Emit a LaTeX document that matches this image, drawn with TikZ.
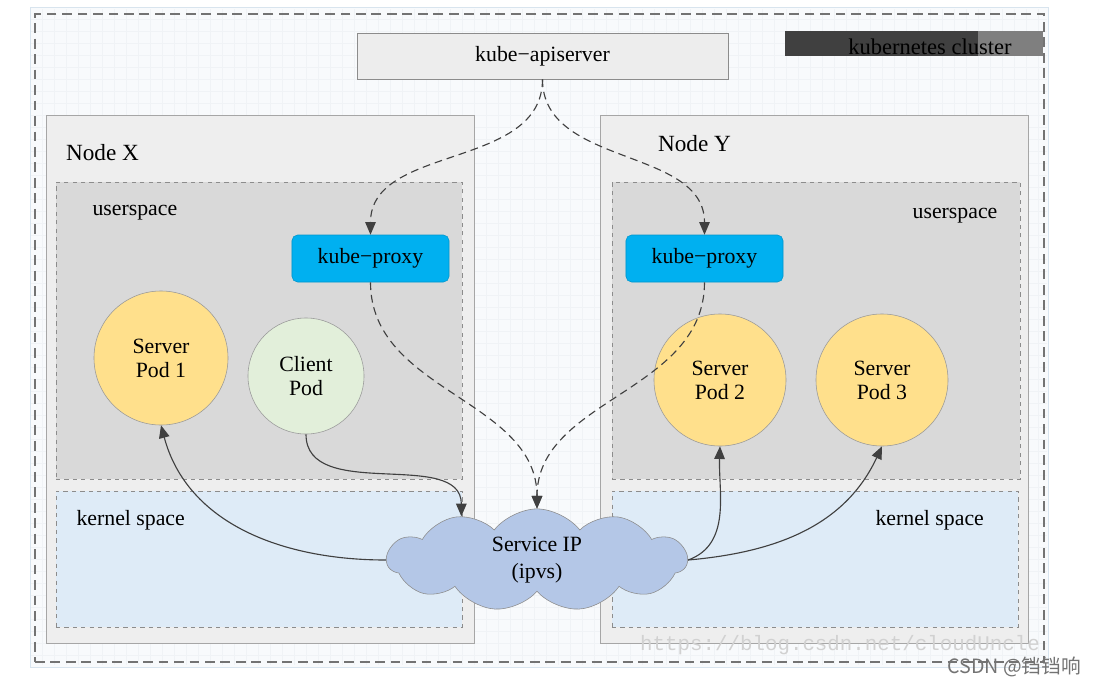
\documentclass[tikz,border=0pt]{standalone}
\usepackage{fontspec}
\setmainfont{Liberation Serif}
\setmonofont{Liberation Mono}
\newfontfamily\cjk{Noto Sans CJK SC}
\usepackage{tikz}
\usetikzlibrary{shapes.symbols}
\usetikzlibrary{arrows.meta}
\usetikzlibrary{positioning}

\definecolor{framefill}{HTML}{F8FAFC}
\definecolor{frameline}{HTML}{D8E4EE}
\definecolor{gridline}{HTML}{F0F3F6}
\definecolor{boxgray}{HTML}{EEEEEE}
\definecolor{apigray}{HTML}{EDEDED}
\definecolor{usergray}{HTML}{D9D9D9}
\definecolor{kernblue}{HTML}{DEEBF7}
\definecolor{proxyblue}{HTML}{00B0F0}
\definecolor{podyellow}{HTML}{FFE08C}
\definecolor{podgreen}{HTML}{E2EFDA}
\definecolor{cloudblue}{HTML}{B4C7E7}
\definecolor{bardark}{HTML}{404040}
\definecolor{barlight}{HTML}{7F7F7F}

\tikzset{
  hostbox/.style={draw=black!35, fill=boxgray, minimum width=10.7cm, minimum height=13.2cm},
  spacebox/.style={draw=black!45, dashed, minimum width=10.15cm},
  proxybox/.style={draw=proxyblue!85!black, fill=proxyblue, rounded corners=4pt, minimum width=3.925cm, minimum height=1.175cm},
  pod/.style={circle, draw=black!40, fill=podyellow, minimum size=3.35cm, align=center, inner sep=0pt},
  link/.style={-{Triangle[length=9pt,width=7.5pt]}, draw=black!75, line width=0.8pt},
  watch/.style={link, dashed, dash pattern=on 5.5pt off 3.5pt},
}

\begin{document}
\begin{tikzpicture}[x=0.025cm,y=-0.025cm,font=\fontsize{15.5}{17}\selectfont]
    \useasboundingbox (0,0) rectangle (1100,686);
    % frame with faint grid
    \node(frame)[draw=frameline, fill=framefill, minimum width=25.45cm, minimum height=16.5cm, inner sep=0] at (539,337) {};
    \foreach \gx in {42,54,...,1040} \draw[gridline, very thin] (\gx,9) -- (\gx,665);
    \foreach \gy in {19,31,...,660} \draw[gridline, very thin] (31,\gy) -- (1047,\gy);
    \node(cluster)[draw=black!55, dashed, dash pattern=on 7pt off 4pt, line width=1.1pt, minimum width=25.225cm, minimum height=16.2cm] at (539.5,338) {};

    % legend bar
    \node(bar)[fill=bardark, minimum width=6.45cm, minimum height=0.625cm, inner sep=0] at (914,43.5) {};
    \fill[barlight] (978,31) rectangle (bar.south east);
    \node(barlabel) at (930,47) {\fontsize{16}{18}\selectfont kubernetes cluster};

    \node(api)[draw=black!45, fill=apigray, minimum width=9.275cm, minimum height=1.15cm] at (542.5,56) {kube−apiserver};

    % the two hosts
    \node(nx)[hostbox] at (260,379) {};
    \node(ny)[hostbox] at (814,379) {};
    \node(nxlabel)[anchor=west] at ([xshift=11pt,yshift=-27pt]nx.north west) {\fontsize{16.5}{18}\selectfont Node X};
    \node(nylabel)[anchor=west] at ([xshift=38pt,yshift=-20.5pt]ny.north west) {\fontsize{16.5}{18}\selectfont Node Y};

    \node(ux)[spacebox, fill=usergray, minimum height=7.425cm] at (259,330.5) {};
    \node(uy)[spacebox, fill=usergray, minimum width=10.2cm, minimum height=7.425cm] at (816,330.5) {};
    \node(kx)[spacebox, fill=kernblue, minimum height=3.4cm] at (259,559) {};
    \node(ky)[spacebox, fill=kernblue, minimum height=3.4cm] at (815,559) {};
    \node(uxlabel)[anchor=west] at ([xshift=22.7pt,yshift=-22pt]ux.north west) {userspace};
    \node(uylabel)[anchor=east] at ([xshift=-12.8pt,yshift=-24pt]uy.north east) {userspace};
    \node(kxlabel)[anchor=west] at ([xshift=11.3pt,yshift=-21pt]kx.north west) {kernel space};
    \node(kylabel)[anchor=east] at ([xshift=-21pt,yshift=-21pt]ky.north east) {kernel space};

    \node(px)[proxybox] at (370.5,258.5) {kube−proxy};
    \node(py)[proxybox] at (704.5,258.5) {kube−proxy};

    \node(pod1)[pod] at (161,358) {Server\\Pod 1};
    \node(client)[pod, fill=podgreen, minimum size=2.9cm] at (306,376) {Client\\Pod};
    \node(pod2)[pod, minimum size=3.3cm] at (720,380) {Server\\Pod 2};
    \node(pod3)[pod, minimum size=3.3cm] at (882,380) {Server\\Pod 3};

    \node(sip)[cloud, cloud puffs=11, cloud puff arc=105, aspect=3.8, draw=black!45, fill=cloudblue, minimum width=7.5cm, minimum height=1.95cm, inner sep=1pt, align=center] at (537,560) {Service IP\\[2pt](ipvs)};

    % watch paths
    \draw[watch] (api.south) to[out=-90,in=90] (px.north);
    \draw[watch] (api.south) to[out=-90,in=90] (py.north);
    \draw[watch] (px.south) to[out=-90,in=90] (sip.north);
    \draw[watch] (py.south) to[out=-90,in=90] (sip.north);

    % traffic
    \draw[link] (client.south) to[out=-90,in=90] (sip.150);
    \draw[link] (sip.west) to[out=180,in=-75] (pod1.south);
    \draw[link] (sip.east) to[out=20,in=-92] (pod2.south);
    \draw[link] (sip.east) to[out=5,in=-115] (pod3.south);

    % watermarks
    \node(wm)[text=black!18] at (840,645) {\fontsize{14.8}{16}\ttfamily https://blog.csdn.net/cloudUncle};
    \node(csdn)[text=black!55, anchor=east] at (1086,667) {\fontsize{14}{16}\cjk CSDN @铛铛响};
\end{tikzpicture}
\end{document}
